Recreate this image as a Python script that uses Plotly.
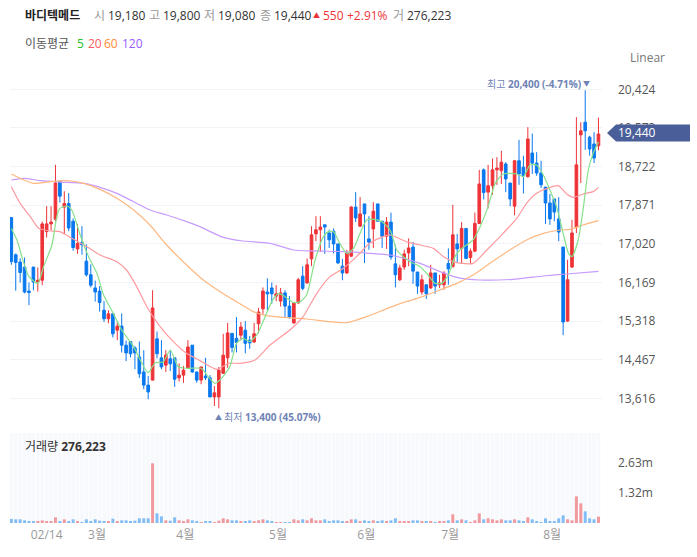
import plotly.graph_objects as go

# Daily candles, oldest first
opens = [17600,16780,16620,16510,15980,16510,16180,16220,17290,17460,
         17560,18400,17830,17910,17520,16910,17050,16640,16340,16050,
         15980,15560,15370,15480,15120,15210,14790,14870,14730,14530,
         14200,13910,14020,14930,14510,14350,14490,14510,14070,14130,
         14290,14790,14200,14020,14110,14070,13650,13650,14170,14510,
         15050,14940,15010,15120,14900,14860,15260,15590,15960,16050,
         15870,15760,15940,15650,15280,15720,16310,16160,16690,17240,
         17330,17440,17260,17300,17020,16530,16380,16750,17830,17410,
         17900,17130,17350,17900,17520,17190,17500,16580,16230,16510,
         16820,16950,16400,15960,16120,16050,16380,16120,16120,16590,
         16520,17020,16920,17360,16720,16860,17470,18650,18160,18300,
         18650,18630,18780,18360,17850,18850,18710,18500,19020,18800,
         18580,18270,17920,18010,17570,16950,15320,16510,17390,19420,
         19700,19370,19220,19180]
highs = [17600,16810,16700,16720,16170,16510,16500,17510,17850,17850,
         18760,18400,18180,18140,17580,17460,17410,17010,16570,16210,
         16090,15760,15560,15480,15310,15490,14890,14870,14770,14870,
         14680,14110,16000,15090,14900,14680,14680,14510,14390,14330,
         14900,14790,14200,14310,14510,14130,13890,14310,15040,15280,
         15050,15410,15300,15320,14990,15280,15610,16060,16260,16170,
         16110,16050,16000,15870,15740,16270,16530,16700,17410,17630,
         17630,17440,17330,17360,17020,16690,16890,17850,18160,18050,
         17900,17630,17940,17900,17520,17610,17710,17000,16560,16890,
         17140,17060,16400,16340,16120,16560,16380,16340,16420,16920,
         17880,17240,17500,17360,16920,17710,18650,18680,18760,18900,
         18930,19070,18820,18360,18870,19310,18960,19590,19450,19040,
         18850,18270,18120,18010,18050,16950,16670,17550,19810,19700,
         20400,19400,19480,19800]
lows = [16560,15990,16170,15930,15670,16000,15970,16110,17160,17320,
        17510,17930,17240,17300,16870,16800,16780,16300,16060,15750,
        15530,15300,15270,14960,14900,14630,14440,14520,14260,14070,
        13820,13600,14010,14500,14260,14200,14220,13870,13990,13960,
        14270,14180,13960,13930,14020,13650,13450,13400,14160,14290,
        14630,14630,14900,14610,14710,14840,15050,15480,15550,15700,
        15760,15640,15400,15370,15260,15700,16000,16140,16530,17080,
        16840,16800,16930,16810,16580,16220,16360,16730,17500,17390,
        16600,16890,16930,17520,16930,16910,16670,16060,16200,16450,
        16530,16140,15920,15900,15810,16030,15920,16050,16010,16120,
        16500,16610,16590,16700,16580,16840,17460,18000,17800,18100,
        18320,18340,18160,17850,17650,18320,18130,18480,18560,18520,
        18250,17460,17440,17520,17080,15010,15300,16490,17260,18360,
        19090,18960,18800,19080]
closes = [16630,16610,16390,15960,15950,16180,16220,17460,17460,17500,
          18360,18070,17910,17370,16940,17030,17000,16340,16110,15960,
          15730,15370,15480,15040,15210,14790,14620,14600,14620,14160,
          13910,13760,15610,14600,14310,14570,14380,14040,14130,14240,
          14750,14200,14020,14310,14070,13650,13740,14240,14570,15060,
          14740,14850,15190,14830,14840,15040,15520,15980,15920,15920,
          15920,15940,15650,15410,15720,16230,16040,16560,17220,17330,
          17390,17390,17110,17020,16600,16380,16820,17830,17590,17680,
          17680,17060,17740,17520,17190,17500,16730,16340,16490,16800,
          16930,16420,16090,16230,15920,16380,16090,16160,16380,16470,
          17220,16910,17360,16700,16860,17470,18340,18150,18300,18650,
          18690,18820,18450,18010,18850,18560,18520,19330,18800,18580,
          18320,17920,17570,17720,17280,15300,16230,17260,18760,19510,
          19510,19110,18910,19440]

# Volume in thousands of shares
volumes = [174,160,160,116,87,73,73,116,58,87,
           247,73,160,73,160,73,29,160,87,160,
           102,73,73,189,73,116,116,73,102,204,
           204,204,2603,422,291,116,102,247,116,73,
           160,116,73,29,73,73,29,102,204,160,
           116,116,73,73,116,73,116,160,116,73,
           15,15,15,15,160,116,160,116,204,116,
           116,160,73,116,116,73,73,160,160,73,
           116,73,116,73,116,73,116,204,73,73,
           73,116,116,73,73,73,29,73,73,116,
           378,116,160,116,29,116,422,160,204,160,
           116,160,116,116,160,116,73,247,160,73,
           29,204,73,73,204,334,160,116,1163,858,
           509,204,160,276]

# Moving averages at their bends
ma5_x = [0,1.3,2.5,4,6,7.3,9.2,10.3,11,12.6,13.7,15.6,17.5,19.4,20.9,23.1,25,27.7,29.2,31,32.6,34.4,36,37.8,40,43,44.6,46.1,47.6,49.5,
         51,52.5,54,55.6,57.5,59,60.5,62,63.9,65.4,66.9,68.8,70.7,71.8,73,74.4,76,77.5,79,80.5,82,83.9,85.8,87.3,88.8,90.3,92.6,94.1,
         96,97.5,99,100.5,101.6,104.6,106.2,108,109.6,111.4,114.5,116,117.5,119,120.5,122,123.5,125,126.2,127,128.4,129.5,130.7,131.8,133]
ma5 = [17360,17100,16700,16298,16150,16518,16995,17619,17802,17854,17766,17215,16738,16371,15894,15490,15123,14756,14463,14184,14404,14419,14683,14316,14280,14280,14096,13949,14059,14316,
       14830,14940,14867,15014,15418,15748,15931,15858,15726,15748,15895,16665,17179,17289,17289,17032,16812,16922,17253,17546,17561,17510,17326,16886,16739,16629,16518,16372,
       16151,16151,16335,16739,16885,17106,17399,17840,18353,18559,18559,18500,18757,18757,18537,18207,17840,17252,16812,16739,17106,17766,18647,19014,19271]
ma20_x = [0,2,4.3,6.2,8.8,11,13.7,17.1,20.1,23.9,26.1,28.4,30.7,33.7,36.7,39.7,42.7,46.5,49.2,51.8,55.2,58.6,63.1,66.1,69.2,72.2,75.2,78.2,81.2,84.2,85.8,89.5,92.6,95.6,97.9,100.9,104.6,107.7,111.4,114.5,116.7,119,122,123.9,125.8,127.3,129.5,131.8,133]
ma20 = [18280,17913,17619,17362,17303,17289,17142,16959,16775,16628,16445,16078,15637,15197,14867,14610,14450,14258,14390,14390,14463,14794,15124,15418,15931,16298,16482,16739,17032,17179,17216,17069,16995,16922,16739,16607,16592,16885,17252,17583,17913,18133,18265,18302,18119,18045,18119,18170,18265]
ma60_x = [0,2,5,8.8,12.6,16.4,20.1,23.9,27.7,31.4,35.2,39.7,43.5,47.3,51,54.8,57.8,62.4,66.9,72.2,76,80.5,85.8,89.5,92.6,97.1,100.9,104.6,108.4,112.9,116.7,120.5,124.3,126.5,129.5,133]
ma60 = [18559,18463,18353,18390,18412,18353,18221,18023,17766,17436,16995,16555,16224,15968,15748,15528,15440,15396,15366,15307,15285,15418,15623,15748,15843,16005,16151,16335,16592,16885,17106,17252,17326,17340,17436,17531]
ma120_x = [0,2.8,6.6,11,16.4,20.1,23.9,27.7,31.4,35.2,39.7,42.7,48,52.5,58.6,63.9,68.4,75.2,81.2,85.8,90.3,92.6,97.1,100.9,106.2,113.7,120.5,125.8,133]
ma120 = [18426,18463,18412,18382,18353,18265,18133,17949,17766,17656,17509,17399,17164,17084,17032,16886,16864,16849,16812,16775,16665,16592,16408,16284,16225,16240,16313,16357,16416]

price_ticks = [20424,19573,18722,17871,17020,16169,15318,14467,13616]
month_pos = [8,19.4,39.4,60.4,80.4,99.4,122.5]
month_labels = ["02/14","3월","4월","5월","6월","7월","8월"]
vol_ticks = [2630,1320]
vol_labels = ["2.63m","1.32m"]

W, H = 697, 557
FONT = "Open Sans, Noto Sans CJK KR"
RED = "#ee3338"
BLUE = "#0a78ee"
x = list(range(len(closes)))

fig = go.Figure()

# pale stripes behind the volume bars
fig.add_trace(go.Bar(x=x, y=[3924]*len(x), yaxis="y2", width=0.85, marker_color="#f7f9fd", marker_line_width=0, hoverinfo="skip"))
vol_colors = ["#f0999e" if c >= o else "#83bdf5" for o, c in zip(opens, closes)]
fig.add_trace(go.Bar(x=x, y=volumes, yaxis="y2", width=0.68, marker_color=vol_colors, marker_line_width=0))

fig.add_trace(go.Candlestick(
    x=x, open=opens, high=highs, low=lows, close=closes,
    increasing=dict(line=dict(color=RED, width=1), fillcolor=RED),
    decreasing=dict(line=dict(color=BLUE, width=1), fillcolor=BLUE),
))

for xs, ys, color in [(ma120_x, ma120, "#c79bff"), (ma60_x, ma60, "#ffb880"), (ma20_x, ma20, "#ff9a9f"), (ma5_x, ma5, "#86e08a")]:
    fig.add_trace(go.Scatter(x=xs, y=ys, mode="lines", line=dict(color=color, width=1.2, shape="spline", smoothing=0.6)))


def label(text, px, py, size=12, color="#333333"):
    # annotations carry a 2px pad on the left
    fig.add_annotation(text=text, x=(px - 2) / W, y=1 - py / H, xref="paper", yref="paper", xanchor="left", yanchor="middle",
                       showarrow=False, font=dict(family=FONT, size=size, color=color))


# current price badge
fig.add_shape(type="path", xref="paper", yref="paper", line_width=0, fillcolor="#4a5f9a", layer="above",
              path=f"M {607/W} {1-133/H} L {616/W} {1-124.5/H} L {690/W} {1-124.5/H} L {690/W} {1-141.5/H} L {616/W} {1-141.5/H} Z")
label("19,440", 618, 133, color="#ffffff")

# header rows
label("<b>바디텍메드</b>", 25, 16, color="#222222")
for text, px in [("시", 94), ("고", 149), ("저", 204), ("종", 260), ("거", 393)]:
    label(text, px, 16, color="#999999")
for text, px in [("19,180", 108), ("19,800", 163), ("19,080", 218), ("19,440", 274), ("276,223", 407)]:
    label(text, px, 16)
label("▲", 313, 16, size=7, color=RED)
label("550", 323, 16, color=RED)
label("+2.91%", 347, 16, color=RED)
label("이동평균", 25, 43, color="#555555")
label("5", 77, 43, color="#22c32a")
label("20", 88, 43, color="#ff5a60")
label("60", 104, 43, color="#ff8c2e")
label("120", 122, 43, color="#9a5cff")
label("Linear", 630, 58, color="#777777")

# high / low markers
label("최고 <b>20,400 (-4.71%)</b>", 487, 84, size=10, color="#6f83b5")
label("▼", 583, 83, size=7, color="#6f83b5")
label("▲", 215, 417, size=7, color="#6f83b5")
label("최저 <b>13,400 (45.07%)</b>", 224, 417, size=10, color="#6f83b5")

label("거래량 <b>276,223</b>", 25, 446, color="#333333")

fig.update_layout(
    width=W, height=H, margin=dict(l=0, r=0, t=0, b=0),
    paper_bgcolor="white", plot_bgcolor="white",
    showlegend=False, barmode="overlay", boxgap=0.15,
    font=dict(family=FONT, size=12, color="#555555"),
    xaxis=dict(domain=[10 / W, 602 / W], range=[-0.3, 133.8], anchor="y2", rangeslider_visible=False,
               tickmode="array", tickvals=month_pos, ticktext=month_labels, showgrid=False, zeroline=False,
               showline=False, ticks="", ticklabelstandoff=3, tickfont=dict(color="#999999", size=12)),
    yaxis=dict(domain=[1 - 415 / H, 1 - 70 / H], range=[13252, 20849], side="right", anchor="x",
               tickmode="array", tickvals=price_ticks, tickformat=",d", gridcolor="#f1f3f8", gridwidth=1,
               zeroline=False, showline=False, ticks="", ticklabelstandoff=15),
    yaxis2=dict(domain=[1 - 523 / H, 1 - 433 / H], range=[0, 3924], side="right", anchor="x",
                tickmode="array", tickvals=vol_ticks, ticktext=vol_labels, showgrid=False, zeroline=False,
                showline=False, ticks="", ticklabelstandoff=15),
)

fig.write_html("out.html", config={"displayModeBar": False}, post_script="document.body.style.margin='0';")
